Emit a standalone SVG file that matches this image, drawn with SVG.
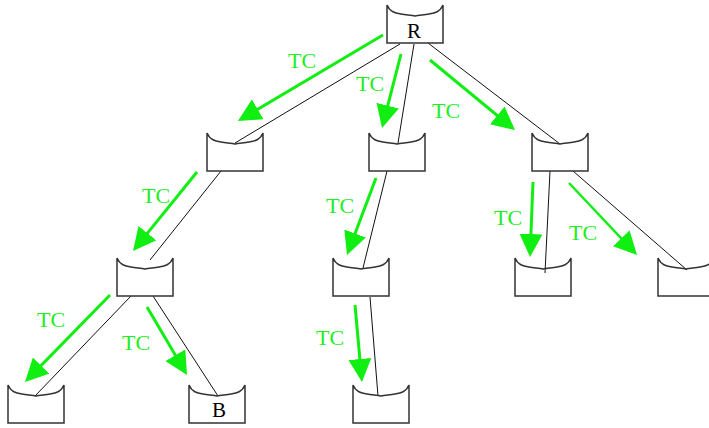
<svg xmlns="http://www.w3.org/2000/svg" xmlns:xlink="http://www.w3.org/1999/xlink" width="709" height="428" viewBox="0 0 709 428">
<style>
.tank{fill:none;stroke:#333;stroke-width:1.5}
.edge{stroke:#111;stroke-width:1;fill:none}
.tc{stroke:#11ee11;stroke-width:3;fill:none;marker-end:url(#ah)}
.lbl{font-family:"Liberation Serif","Times New Roman",serif;font-size:22px;fill:#22ee22}
.nl{font-family:"Liberation Serif","Times New Roman",serif;font-size:21px;fill:#000;text-anchor:middle}
</style>
<defs>
<path id="shape" d="M0,0 C3,7 8,8 14,9 C20,10 25,10 28,11 C31,10 36,10 42,9 C48,8 53,7 56,0 L56,38 L0,38 Z"/>
<marker id="ah" markerUnits="userSpaceOnUse" markerWidth="23" markerHeight="23" refX="19" refY="11.5" orient="auto" viewBox="0 0 23 23">
<path d="M0,0 L23,11.5 L0,23 Z" fill="#11ee11"/>
</marker>
</defs>
<rect width="709" height="428" fill="#fff"/>
<g id="connectors">
<line class="edge" x1="400" y1="44" x2="235" y2="143"/>
<line class="edge" x1="414" y1="44" x2="398" y2="143"/>
<line class="edge" x1="428" y1="43" x2="560" y2="144"/>
<line class="edge" x1="221" y1="171" x2="150" y2="260"/>
<line class="edge" x1="131" y1="296" x2="35" y2="396"/>
<line class="edge" x1="153" y1="296" x2="218" y2="396"/>
<line class="edge" x1="387" y1="171" x2="363" y2="268"/>
<line class="edge" x1="370" y1="297" x2="378" y2="396"/>
<line class="edge" x1="550" y1="171" x2="545" y2="273"/>
<line class="edge" x1="573" y1="171" x2="687" y2="270"/>
<line class="tc" x1="383" y1="35" x2="241.4" y2="119"/>
<line class="tc" x1="401" y1="54" x2="383" y2="124.1"/>
<line class="tc" x1="430" y1="60" x2="511.9" y2="127.5"/>
<line class="tc" x1="197" y1="172" x2="135.5" y2="247.9"/>
<line class="tc" x1="110" y1="295" x2="27.8" y2="379.1"/>
<line class="tc" x1="147" y1="307" x2="185" y2="371.6"/>
<line class="tc" x1="376" y1="178" x2="348.4" y2="251.3"/>
<line class="tc" x1="355" y1="305" x2="361.6" y2="378"/>
<line class="tc" x1="533" y1="182" x2="530.2" y2="253"/>
<line class="tc" x1="569" y1="183" x2="634.3" y2="252.1" style="stroke-width:2.4"/>
<text class="lbl" x="288" y="68">TC</text>
<text class="lbl" x="356" y="91">TC</text>
<text class="lbl" x="432" y="118">TC</text>
<text class="lbl" x="142" y="203">TC</text>
<text class="lbl" x="37" y="327">TC</text>
<text class="lbl" x="122" y="350">TC</text>
<text class="lbl" x="326" y="213">TC</text>
<text class="lbl" x="316" y="345">TC</text>
<text class="lbl" x="494" y="225">TC</text>
<text class="lbl" x="569" y="240">TC</text>
</g>
<g id="n_root"><use xlink:href="#shape" href="#shape" class="tank" x="387" y="5"/><text class="nl" x="414" y="38">R</text></g>
<g id="n_l1"><use href="#shape" class="tank" x="207" y="133"/></g>
<g id="n_c1"><use href="#shape" class="tank" x="369" y="133"/></g>
<g id="n_r1"><use href="#shape" class="tank" x="532" y="133"/></g>
<g id="n_l2"><use href="#shape" class="tank" x="117" y="258"/></g>
<g id="n_c2"><use href="#shape" class="tank" x="333" y="258"/></g>
<g id="n_r2a"><use href="#shape" class="tank" x="515" y="258"/></g>
<g id="n_r2b"><use href="#shape" class="tank" x="658" y="258"/></g>
<g id="n_l3a"><use href="#shape" class="tank" x="8" y="385"/></g>
<g id="n_l3b"><use href="#shape" class="tank" x="189" y="385"/><text class="nl" x="219" y="417">B</text></g>
<g id="n_c3"><use href="#shape" class="tank" x="353" y="385"/></g>
</svg>
